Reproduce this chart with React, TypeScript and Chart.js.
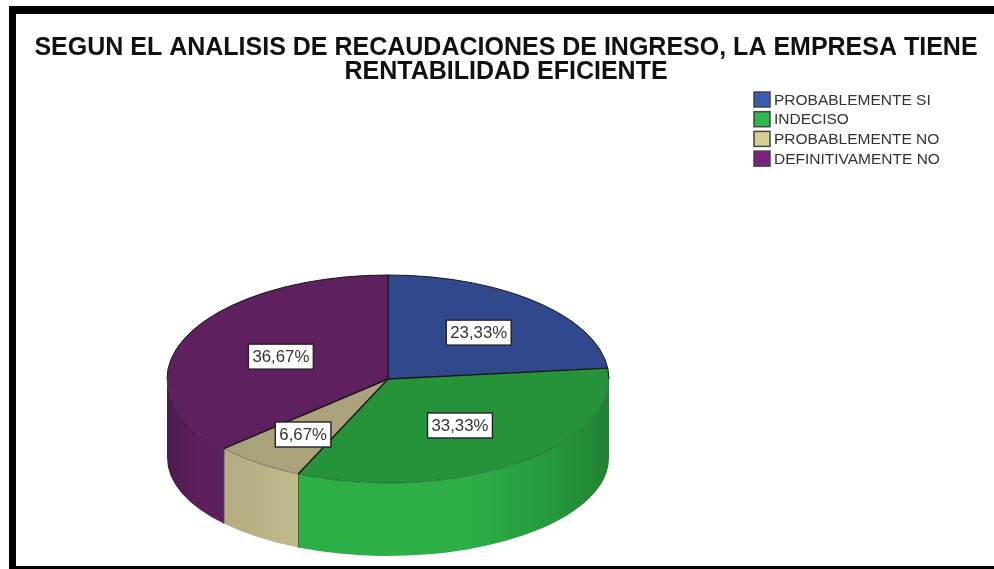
import React, { useEffect, useRef } from "react";
import { Chart, registerables } from "chart.js";

Chart.register(...registerables);

const titleLines = [
  "SEGUN EL ANALISIS DE RECAUDACIONES DE INGRESO, LA EMPRESA TIENE",
  "RENTABILIDAD EFICIENTE",
];
const categories = ["PROBABLEMENTE SI", "INDECISO", "PROBABLEMENTE NO", "DEFINITIVAMENTE NO"];
const percentages = [23.33, 33.33, 6.67, 36.67];

const topColors = ["#32488C", "#26933B", "#A9A27A", "#5F2060"];
const legendColors = ["#3A5BAE", "#2DB84B", "#D6CF92", "#7B2280"];
const sideStops: [number, string][][] = [
  [[0, "#32488C"], [1, "#32488C"]],
  [[0, "#2DAE47"], [0.55, "#2DAE47"], [0.8, "#269A3E"], [1, "#218233"]],
  [[0, "#B3AC82"], [1, "#C2BA8B"]],
  [[0, "#4C1B4E"], [0.5, "#5A1F5C"], [1, "#5F2060"]],
];
const labelOffsets = [
  [2, 0],
  [-6, -4],
  [-7, 5],
  [14, 3],
];

const FONT = "'Liberation Sans', Arial, sans-serif";
const CX = 388, CY = 379, RX = 221, RY = 104;
const BOTTOM_CY = 458, BOTTOM_RY = 98;
const LABEL_FRACTION = 0.6;

const pie3d = {
  id: "pie3d",
  beforeDraw(chart: any) {
    const { ctx } = chart;
    ctx.save();
    ctx.fillStyle = "#ffffff";
    ctx.fillRect(0, 0, 994, 569);
    ctx.fillStyle = "#000000";
    ctx.fillRect(9, 6, 985, 8);
    ctx.fillRect(9, 6, 7, 563);
    ctx.fillRect(9, 566, 985, 3);
    ctx.restore();
  },
  beforeDatasetsDraw(chart: any) {
    const { ctx } = chart;
    const arcs = chart.getDatasetMeta(0).data;
    arcs.forEach((el: any, i: number) => {
      const a0 = Math.max(el.startAngle, 0);
      const a1 = Math.min(el.endAngle, Math.PI);
      if (a1 <= a0) return;
      const x0 = CX + RX * Math.cos(a1);
      const x1 = CX + RX * Math.cos(a0);
      const g = ctx.createLinearGradient(x0, 0, x1, 0);
      sideStops[i].forEach(([o, c]) => g.addColorStop(o, c));
      ctx.beginPath();
      ctx.ellipse(CX, CY, RX, RY, 0, a0, a1);
      ctx.ellipse(CX, BOTTOM_CY, RX, BOTTOM_RY, 0, a1, a0, true);
      ctx.closePath();
      ctx.fillStyle = g;
      ctx.fill();
      ctx.strokeStyle = "rgba(0,0,0,0.85)";
      ctx.lineWidth = 1;
      ctx.beginPath();
      const ex = CX + RX * Math.cos(a1);
      ctx.moveTo(ex, CY + RY * Math.sin(a1));
      ctx.lineTo(ex, BOTTOM_CY + BOTTOM_RY * Math.sin(a1));
      if (a1 < Math.PI) ctx.stroke();
    });
    const el = arcs[0];
    ctx.save();
    ctx.translate(CX, CY);
    ctx.scale(RX / el.outerRadius, RY / el.outerRadius);
    ctx.translate(-el.x, -el.y);
  },
  afterDatasetsDraw(chart: any) {
    const { ctx } = chart;
    ctx.restore();
    const arcs = chart.getDatasetMeta(0).data;
    // rims and radial edges
    ctx.save();
    ctx.strokeStyle = "rgba(0,0,0,0.3)";
    ctx.lineWidth = 1;
    ctx.beginPath();
    ctx.ellipse(CX, CY, RX, RY, 0, 0, Math.PI);
    ctx.stroke();
    ctx.strokeStyle = "#161616";
    ctx.beginPath();
    ctx.ellipse(CX, CY, RX, RY, 0, Math.PI, 2 * Math.PI);
    ctx.stroke();
    ctx.lineWidth = 1.4;
    arcs.forEach((el: any) => {
      ctx.beginPath();
      ctx.moveTo(CX, CY);
      ctx.lineTo(CX + RX * Math.cos(el.startAngle), CY + RY * Math.sin(el.startAngle));
      ctx.stroke();
    });
    ctx.restore();

    // value labels
    ctx.save();
    ctx.font = `16.8px ${FONT}`;
    ctx.textAlign = "center";
    ctx.textBaseline = "middle";
    arcs.forEach((el: any, i: number) => {
      const mid = (el.startAngle + el.endAngle) / 2;
      const x = CX + LABEL_FRACTION * RX * Math.cos(mid) + labelOffsets[i][0];
      const y = CY + LABEL_FRACTION * RY * Math.sin(mid) + labelOffsets[i][1];
      const text = percentages[i].toFixed(2).replace(".", ",") + "%";
      const w = ctx.measureText(text).width + 8;
      const h = 25;
      ctx.fillStyle = "#ffffff";
      ctx.strokeStyle = "#222222";
      ctx.lineWidth = 1.4;
      ctx.fillRect(x - w / 2, y - h / 2, w, h);
      ctx.strokeRect(x - w / 2, y - h / 2, w, h);
      ctx.fillStyle = "#333333";
      ctx.fillText(text, x, y + 1);
    });
    ctx.restore();

    // legend
    ctx.save();
    ctx.font = `15.5px ${FONT}`;
    ctx.textAlign = "left";
    ctx.textBaseline = "middle";
    chart.data.labels.forEach((label: string, i: number) => {
      const top = 92 + i * 19.7;
      ctx.fillStyle = legendColors[i];
      ctx.strokeStyle = "#444444";
      ctx.lineWidth = 1.5;
      ctx.fillRect(754, top, 16, 15);
      ctx.strokeRect(754, top, 16, 15);
      ctx.fillStyle = "#333333";
      ctx.fillText(label, 774, top + 8.5);
    });
    ctx.restore();
  },
};

export default function App() {
  const ref = useRef<HTMLCanvasElement | null>(null);
  useEffect(() => {
    const chart = new Chart(ref.current as HTMLCanvasElement, {
      type: "pie",
      data: {
        labels: categories,
        datasets: [
          {
            data: percentages,
            backgroundColor: topColors,
            borderWidth: 0,
            clip: false,
          } as any,
        ],
      },
      options: {
        responsive: false,
        animation: false,
        radius: 221,
        layout: { padding: { left: 18, right: 0, top: 0, bottom: 0 } },
        plugins: {
          legend: { display: false },
          tooltip: { enabled: false },
          title: {
            display: true,
            text: titleLines,
            color: "#111111",
            font: { family: FONT, size: 25, weight: "bold", lineHeight: 0.96 },
            padding: { top: 36, bottom: 10 },
          },
        },
      } as any,
      plugins: [pie3d],
    });
    return () => chart.destroy();
  }, []);
  return (
    <canvas
      ref={ref}
      width={994}
      height={569}
      style={{ position: "fixed", left: 0, top: 0, width: 994, height: 569 }}
    />
  );
}
